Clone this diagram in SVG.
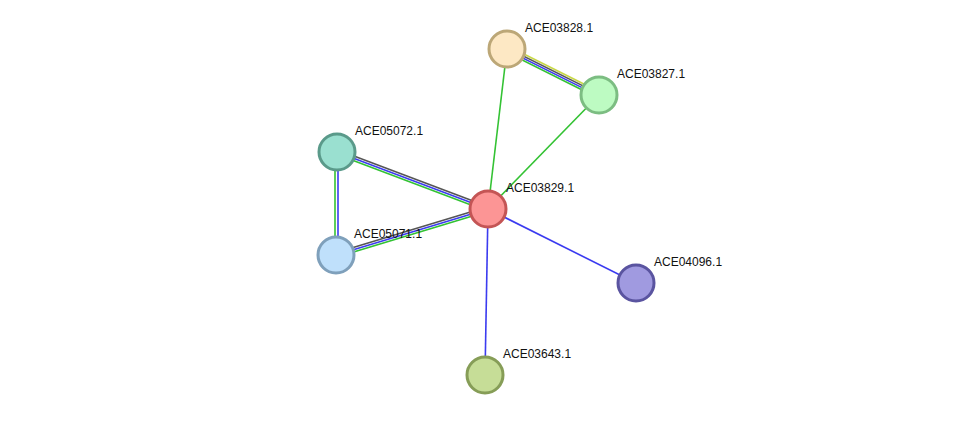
<svg xmlns="http://www.w3.org/2000/svg" width="976" height="421" viewBox="0 0 976 421">
<style>
.e{stroke-width:1.6;fill:none}
.g{stroke:#33c233}.b{stroke:#3b3bf0}.k{stroke:#555}.y{stroke:#c8d846}
circle{stroke-width:3}
text{font-family:"Liberation Sans",Arial,sans-serif;font-size:12px;fill:#111}
</style>
<rect width="976" height="421" fill="#fff"/>
<g id="edges">
<line class="e k" x1="338" y1="150" x2="489" y2="207"/>
<line class="e b" x1="337" y1="152" x2="488" y2="209"/>
<line class="e g" x1="336" y1="154" x2="487" y2="211"/>
<line class="e k" x1="335" y1="253" x2="487" y2="207"/>
<line class="e b" x1="336" y1="255" x2="488" y2="209"/>
<line class="e g" x1="337" y1="257" x2="489" y2="211"/>
<line class="e g" x1="335" y1="152" x2="335" y2="255"/>
<line class="e b" x1="338" y1="152" x2="338" y2="255"/>
<line class="e y" x1="508.3" y1="46.3" x2="600.3" y2="92.3"/>
<line class="e k" x1="507.5" y1="48.1" x2="599.5" y2="94.1"/>
<line class="e b" x1="506.5" y1="49.9" x2="598.5" y2="95.9"/>
<line class="e g" x1="505.7" y1="51.7" x2="597.7" y2="97.7"/>
<line class="e g" x1="507" y1="49" x2="488" y2="209"/>
<line class="e g" x1="599" y1="95" x2="488" y2="209"/>
<line class="e b" x1="488" y1="209" x2="636" y2="283"/>
<line class="e b" x1="488" y1="209" x2="485" y2="375"/>
</g>
<g id="n03828"><circle cx="507" cy="49" r="18" fill="#fde8c4" stroke="#bca777"/><text x="525" y="32">ACE03828.1</text></g>
<g id="n03827"><circle cx="599" cy="95" r="18" fill="#bdfbc2" stroke="#7cbd82"/><text x="617" y="78">ACE03827.1</text></g>
<g id="n05072"><circle cx="337" cy="152" r="18" fill="#9ae0d0" stroke="#5a9a8a"/><text x="355" y="135">ACE05072.1</text></g>
<g id="n03829"><circle cx="488" cy="209" r="18" fill="#fc9595" stroke="#c45555"/><text x="506" y="192">ACE03829.1</text></g>
<g id="n05071"><circle cx="336" cy="255" r="18" fill="#bfe0fb" stroke="#7fa0bb"/><text x="354" y="238">ACE05071.1</text></g>
<g id="n04096"><circle cx="636" cy="283" r="18" fill="#a09ae0" stroke="#5a54a0"/><text x="654" y="266">ACE04096.1</text></g>
<g id="n03643"><circle cx="485" cy="375" r="18" fill="#c6dd97" stroke="#869d57"/><text x="503" y="358">ACE03643.1</text></g>
</svg>
